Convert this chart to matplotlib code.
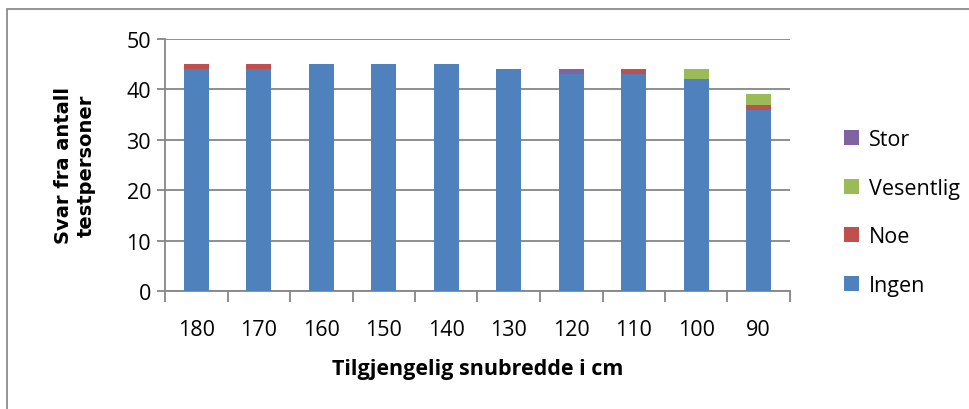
import matplotlib
matplotlib.use("Agg")
import matplotlib.pyplot as plt
import matplotlib.patches as mpatches
from matplotlib import font_manager
import numpy as np

categories = ["180", "170", "160", "150", "140", "130", "120", "110", "100", "90"]
ingen = [44, 44, 45, 45, 45, 44, 43, 43, 42, 36]
noe = [1, 1, 0, 0, 0, 0, 0, 1, 0, 1]
vesentlig = [0, 0, 0, 0, 0, 0, 0, 0, 2, 2]
stor = [0, 0, 0, 0, 0, 0, 1, 0, 0, 0]
series_names = ["Ingen", "Noe", "Vesentlig", "Stor"]
colors = ["#4F81BD", "#C0504D", "#9BBB59", "#8064A2"]

avail = {f.name for f in font_manager.fontManager.ttflist}
narrow = "Liberation Sans Narrow" if "Liberation Sans Narrow" in avail else "Open Sans"

fig = plt.figure(figsize=(9.7, 4.1), dpi=100)
ax = fig.add_axes([165/970, 1-292/410, (790-165)/970, (292-40)/410])

x = np.arange(len(categories))
bottom = np.zeros(len(categories))
handles = []
for name, vals, c in zip(series_names, [ingen, noe, vesentlig, stor], colors):
    vals = np.array(vals, dtype=float)
    b = ax.bar(x, vals, bottom=bottom, width=0.4, color=c, label=name, zorder=3)
    handles.append(b)
    bottom += vals

ax.set_xlim(-0.5, len(categories) - 0.5)
ax.set_ylim(0, 50)
ax.set_yticks(range(0, 51, 10))
ax.yaxis.grid(True, color="#868686", linewidth=1.3, zorder=0)
ax.set_axisbelow(True)
for s in ["top", "right"]:
    ax.spines[s].set_visible(False)
ax.spines["left"].set_color("#868686")
ax.spines["bottom"].set_color("#868686")
ax.spines["left"].set_linewidth(1.3)
ax.spines["bottom"].set_linewidth(1.3)

ax.set_xticks(x)
ax.set_xticklabels(categories, fontsize=15.5, family=narrow)
ax.tick_params(axis="x", length=0, pad=20)
ax.set_xticks(np.arange(-0.5, len(categories)), minor=True)
ax.tick_params(axis="x", which="minor", length=8, color="#868686", width=1.3)
ax.tick_params(axis="y", length=6, color="#868686", width=1.3, labelsize=15.5, pad=4)
for lab in ax.get_yticklabels():
    lab.set_family(narrow)

ax.set_xlabel("Tilgjengelig snubredde i cm", fontsize=15.5, fontweight="bold", family=narrow, labelpad=13)
ax.set_ylabel("Svar fra antall\ntestpersoner", fontsize=14, fontweight="bold", family="DejaVu Sans", labelpad=22, linespacing=1.25)

leg = fig.legend(handles[::-1], series_names[::-1], loc="upper left",
                 bbox_to_anchor=(825/970, 1-111/410), frameon=False,
                 prop={"family": narrow, "size": 15.5}, labelspacing=1.28,
                 handlelength=0.7, handleheight=0.7, handletextpad=0.45)

rect = mpatches.Rectangle((7/970, -0.1), 1.2, 1 - 10/410 + 0.1, transform=fig.transFigure,
                          fill=False, edgecolor="#8c8c8c", linewidth=1.3)
fig.patches.append(rect)

fig.savefig("out.png", dpi=100, facecolor="white")
